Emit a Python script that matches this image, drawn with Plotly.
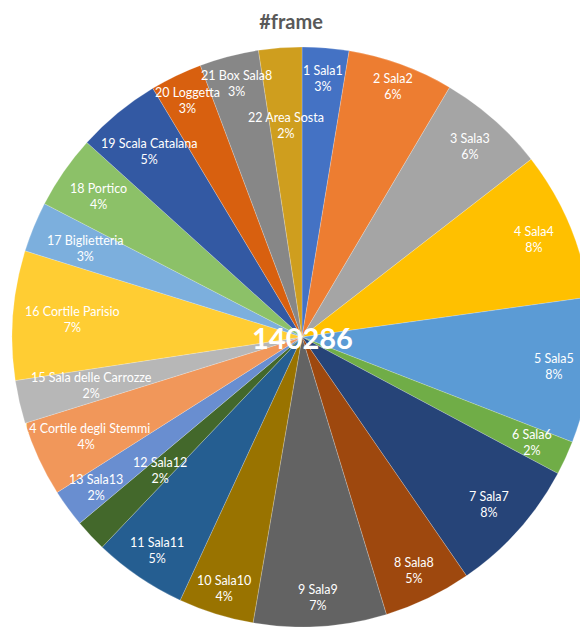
import math
import plotly.graph_objects as go

# Visitor counts per area
labels = [
    "1 Sala1", "2 Sala2", "3 Sala3", "4 Sala4", "5 Sala5", "6 Sala6",
    "7 Sala7", "8 Sala8", "9 Sala9", "10 Sala10", "11 Sala11", "12 Sala12",
    "13 Sala13", "14 Cortile degli Stemmi", "15 Sala delle Carrozze",
    "16 Cortile Parisio", "17 Biglietteria", "18 Portico",
    "19 Scala Catalana", "20 Loggetta", "21 Box Sala8", "22 Area Sosta",
]
counts = [
    3647, 8278, 8417, 11644, 11363, 2665,
    10662, 6874, 10381, 5892, 7295, 2525,
    2946, 5892, 3367, 10101, 3928, 5752,
    6593, 4068, 4629, 3367,
]
title_text = "#frame"

# Office-style slice palette
colors = [
    "#4472C4", "#ED7D31", "#A5A5A5", "#FFC000", "#5B9BD5", "#70AD47",
    "#264478", "#9E480E", "#636363", "#997300", "#255E91", "#43682B",
    "#698ED0", "#F1975A", "#B7B7B7", "#FFCD33", "#7CAFDD", "#8CC168",
    "#3359A3", "#D8600F", "#878787", "#CF9E1E",
]

# Radial placement of each data label (fraction of the pie radius)
label_radius = [
    0.893, 0.92, 0.876, 0.869, 0.876, 0.872, 0.866, 0.893, 0.90, 0.907, 0.89,
    0.672, 0.879, 0.82, 0.745, 0.793, 0.807, 0.852, 0.828, 0.907, 0.903, 0.731,
]

W, H = 604, 627
M_TOP = 47
plot_w, plot_h = W, H - M_TOP
R_PX = min(plot_w, plot_h) / 2

total = sum(counts)

fig = go.Figure(
    go.Pie(
        labels=labels,
        values=counts,
        sort=False,
        direction="clockwise",
        rotation=0,
        marker=dict(colors=colors, line=dict(color="rgba(255,255,255,0.35)", width=0.6)),
        textinfo="none",
        hoverinfo="label+value+percent",
        showlegend=False,
        domain=dict(x=[0, 1], y=[0, 1]),
    )
)

annotations = []
cum = 0
for lab, v, f in zip(labels, counts, label_radius):
    mid = (cum + v / 2) / total * 2 * math.pi
    cum += v
    pct = int(v / total * 100 + 0.5)
    dx = f * R_PX * math.sin(mid)
    dy = f * R_PX * math.cos(mid)
    annotations.append(dict(
        x=0.5 + dx / plot_w, y=0.5 + dy / plot_h,
        xref="paper", yref="paper",
        text=f"{lab}<br>{pct}%",
        showarrow=False, xanchor="center", yanchor="middle",
        font=dict(family="Lato", size=12.5, color="white"),
    ))

# Grand total in the middle of the pie
annotations.append(dict(
    x=0.5, y=0.5, xref="paper", yref="paper",
    text=f"<b>{total}</b>", showarrow=False,
    xanchor="center", yanchor="middle",
    font=dict(family="Lato", size=29, color="white"),
))

fig.update_layout(
    width=W, height=H,
    margin=dict(l=0, r=0, t=M_TOP, b=0),
    paper_bgcolor="white",
    plot_bgcolor="white",
    title=dict(
        text=f"<b>{title_text}</b>",
        x=291 / W, xanchor="center",
        y=1 - 22 / H, yanchor="middle", yref="container",
        font=dict(family="Lato", size=20, color="#595959"),
    ),
    annotations=annotations,
)

fig.write_html(
    "out.html",
    post_script="document.documentElement.style.overflow='hidden';document.body.style.overflow='hidden';",
)
